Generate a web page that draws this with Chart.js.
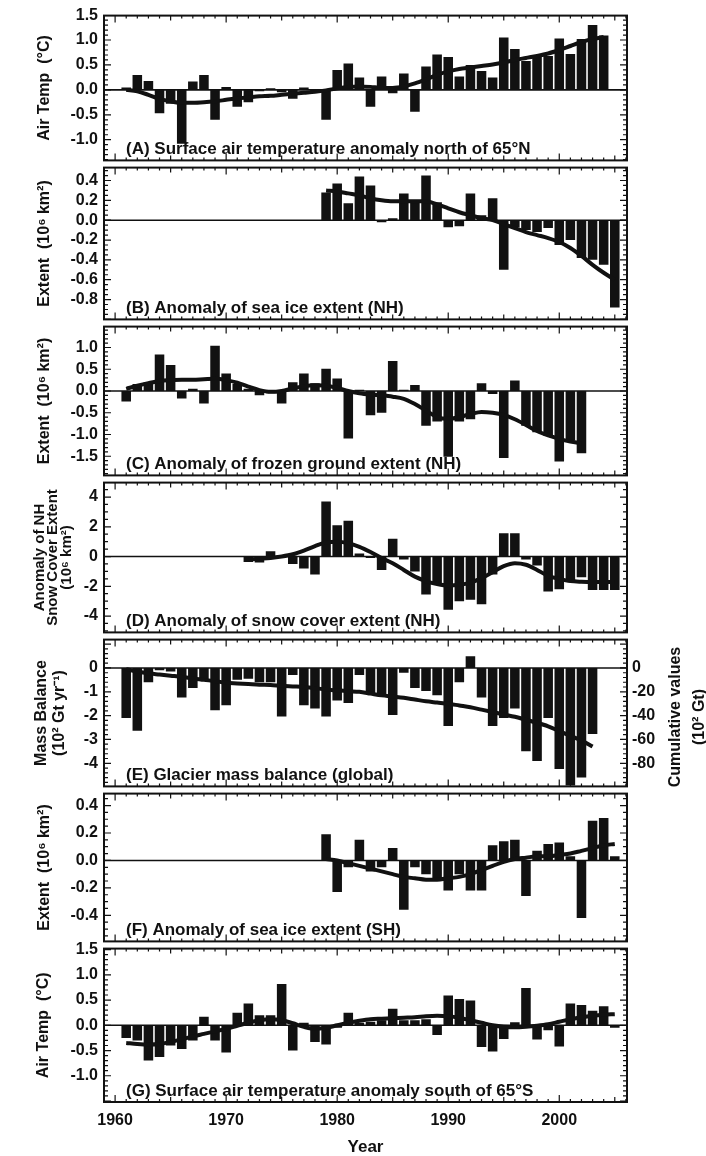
<!DOCTYPE html>
<html>
<head>
<meta charset="utf-8">
<script src="https://cdn.jsdelivr.net/npm/chart.js@4.4.0/dist/chart.umd.min.js"></script>
<style>
  html, body { margin: 0; padding: 0; background: #fff; }
  #wrap { position: relative; width: 706px; height: 1156px; overflow: hidden; background: #fff; }
  #wrap canvas { position: absolute; left: 0; }
</style>
</head>
<body>
<div id="wrap"></div>
<script>
const range = (a, b) => Array.from({ length: b - a + 1 }, (_, i) => a + i);

// (A) surface air temperature north of 65N
const yearsA = range(1961, 2004);
const barsA = [0.05, 0.30, 0.18, -0.47, -0.28, -1.08, 0.17, 0.30, -0.60, 0.06,
  -0.34, -0.25, -0.03, 0.03, -0.05, -0.18, 0.05, -0.05, -0.60, 0.40,
  0.53, 0.25, -0.34, 0.27, -0.07, 0.33, -0.44, 0.47, 0.71, 0.66,
  0.27, 0.50, 0.38, 0.25, 1.05, 0.82, 0.58, 0.66, 0.68, 1.03,
  0.72, 1.02, 1.30, 1.09];
const smoothA = [0.00, -0.03, -0.10, -0.18, -0.23, -0.26, -0.26, -0.25, -0.23, -0.20,
  -0.17, -0.15, -0.13, -0.12, -0.10, -0.08, -0.06, -0.04, -0.01, 0.03,
  0.06, 0.07, 0.06, 0.04, 0.04, 0.07, 0.13, 0.21, 0.30, 0.37,
  0.42, 0.45, 0.48, 0.51, 0.55, 0.60, 0.64, 0.68, 0.73, 0.80,
  0.88, 0.96, 1.02, 1.06];
const ticksA = [1.5, 1.0, 0.5, 0.0, -0.5, -1.0];

// (B) sea ice extent NH
const yearsB = range(1979, 2005);
const barsB = [0.28, 0.37, 0.17, 0.44, 0.35, -0.02, 0.02, 0.27, 0.18, 0.45,
  0.18, -0.07, -0.06, 0.27, 0.05, 0.22, -0.50, -0.07, -0.10, -0.12,
  -0.08, -0.25, -0.20, -0.38, -0.40, -0.45, -0.88];
const smoothB = [0.30, 0.29, 0.27, 0.25, 0.22, 0.20, 0.19, 0.19, 0.19, 0.19,
  0.16, 0.12, 0.08, 0.05, 0.02, 0.00, -0.04, -0.08, -0.12, -0.15,
  -0.18, -0.22, -0.28, -0.36, -0.45, -0.53, -0.60];
const ticksB = [0.4, 0.2, 0.0, -0.2, -0.4, -0.6, -0.8];

// (C) frozen ground extent NH
const yearsC = range(1961, 2002);
const barsC = [-0.24, 0.16, 0.20, 0.84, 0.60, -0.17, 0.05, -0.29, 1.04, 0.40,
  0.16, 0.05, -0.10, -0.05, -0.29, 0.20, 0.40, 0.18, 0.51, 0.29,
  -1.09, 0.03, -0.56, -0.50, 0.69, 0.03, 0.14, -0.80, -0.70, -1.51,
  -0.70, -0.65, 0.18, -0.07, -1.54, 0.24, -0.80, -0.95, -1.03, -1.62,
  -1.14, -1.43];
const smoothC = [0.05, 0.12, 0.18, 0.23, 0.25, 0.26, 0.26, 0.27, 0.28, 0.25,
  0.19, 0.10, 0.02, -0.02, 0.00, 0.06, 0.11, 0.13, 0.12, 0.07,
  0.00, -0.05, -0.08, -0.10, -0.13, -0.18, -0.30, -0.45, -0.60, -0.64,
  -0.60, -0.53, -0.48, -0.50, -0.55, -0.65, -0.78, -0.92, -1.02, -1.10,
  -1.16, -1.20];
const ticksC = [1.0, 0.5, 0.0, -0.5, -1.0, -1.5];

// (D) snow cover extent NH
const yearsD = range(1972, 2005);
const barsD = [-0.36, -0.40, 0.36, 0.10, -0.50, -0.80, -1.20, 3.70, 2.10, 2.40,
  0.20, -0.10, -0.90, 1.20, -0.20, -1.00, -2.55, -1.80, -3.57, -3.00,
  -2.90, -3.20, -1.20, 1.56, 1.56, -0.20, -0.60, -2.35, -2.20, -1.70,
  -1.40, -2.25, -2.25, -2.25];
const smoothD = [-0.20, -0.15, -0.10, 0.00, 0.15, 0.40, 0.70, 0.95, 1.00, 0.90,
  0.65, 0.30, -0.10, -0.45, -0.90, -1.35, -1.65, -1.85, -1.95, -1.90,
  -1.75, -1.45, -1.05, -0.65, -0.45, -0.55, -0.90, -1.30, -1.50, -1.65,
  -1.70, -1.72, -1.72, -1.72];
const ticksD = [4, 2, 0, -2, -4];

// (E) glacier mass balance, yearly (10^2 Gt/yr) and cumulative (10^2 Gt)
const yearsE = range(1961, 2003);
const barsE = [-2.10, -2.64, -0.60, -0.10, -0.15, -1.24, -0.84, -0.50, -1.77, -1.57,
  -0.50, -0.45, -0.60, -0.60, -2.04, -0.30, -1.57, -1.70, -2.04, -1.37,
  -1.47, -0.30, -1.07, -1.17, -1.97, -0.20, -0.84, -0.97, -1.15, -2.44,
  -0.60, 0.49, -1.24, -2.44, -2.10, -1.70, -3.50, -3.90, -2.10, -4.24,
  -4.93, -4.60, -2.77];
const cumulativeE = [-1, -3, -4.5, -5.5, -6.5, -7.5, -8.8, -10, -11, -12.5,
  -13, -13.5, -14, -14.3, -15, -15.5, -16, -17, -18, -18.8,
  -19.5, -20, -21.5, -23, -24, -25, -26.5, -28, -29, -30,
  -31.5, -33, -35, -37, -39, -41, -43.5, -46, -49, -53,
  -57, -61, -66];
const ticksE = [0, -1, -2, -3, -4];
const cumTicksE = [0, -20, -40, -60, -80];

// (F) sea ice extent SH
const yearsF = range(1979, 2005);
const barsF = [0.19, -0.23, -0.05, 0.15, -0.08, -0.05, 0.09, -0.36, -0.05, -0.10,
  -0.14, -0.22, -0.10, -0.22, -0.22, 0.11, 0.14, 0.15, -0.26, 0.07,
  0.12, 0.13, 0.03, -0.42, 0.29, 0.31, 0.03];
const smoothF = [0.01, 0.00, -0.02, -0.04, -0.06, -0.08, -0.10, -0.12, -0.13, -0.14,
  -0.14, -0.13, -0.12, -0.10, -0.07, -0.04, -0.01, 0.01, 0.02, 0.03,
  0.03, 0.04, 0.05, 0.07, 0.09, 0.11, 0.12];
const ticksF = [0.4, 0.2, 0.0, -0.2, -0.4];

// (G) surface air temperature south of 65S
const yearsG = range(1961, 2005);
const barsG = [-0.25, -0.30, -0.70, -0.63, -0.40, -0.47, -0.30, 0.17, -0.30, -0.54,
  0.25, 0.43, 0.20, 0.20, 0.82, -0.50, 0.05, -0.33, -0.38, -0.05,
  0.25, 0.05, 0.07, 0.10, 0.33, 0.10, 0.10, 0.12, -0.19, 0.59,
  0.52, 0.49, -0.43, -0.52, -0.27, 0.06, 0.74, -0.28, -0.10, -0.42,
  0.43, 0.40, 0.29, 0.38, -0.05];
const smoothG = [-0.35, -0.37, -0.38, -0.37, -0.33, -0.28, -0.22, -0.17, -0.12, -0.07,
  -0.01, 0.05, 0.10, 0.12, 0.10, 0.04, -0.03, -0.07, -0.05, 0.00,
  0.05, 0.09, 0.12, 0.13, 0.14, 0.15, 0.16, 0.18, 0.19, 0.18,
  0.15, 0.10, 0.05, 0.00, -0.03, -0.04, -0.03, -0.01, 0.02, 0.07,
  0.12, 0.16, 0.19, 0.21, 0.22];
const ticksG = [1.5, 1.0, 0.5, 0.0, -0.5, -1.0];

const xTicks = [1960, 1970, 1980, 1990, 2000];

const FAMILY = '"Liberation Sans", Arial, Helvetica, sans-serif';
const INK = '#111';

const panels = [
  { years: yearsA, bars: barsA, line: smoothA, ticks: ticksA, min: -1.415, max: 1.49, minor: 0.1, dec: 1,
    title: 'Air Temp  (°C)', tSize: 16, tLH: 1.2, tPad: 35,
    label: '(A) Surface air temperature anomaly north of 65°N' },
  { years: yearsB, bars: barsB, line: smoothB, ticks: ticksB, min: -1.0, max: 0.53, minor: 0.05, dec: 1,
    title: 'Extent  (10⁶ km²)', tSize: 16, tLH: 1.2, tPad: 35,
    label: '(B) Anomaly of sea ice extent (NH)' },
  { years: yearsC, bars: barsC, line: smoothC, ticks: ticksC, min: -1.94, max: 1.48, minor: 0.1, dec: 1,
    title: 'Extent  (10⁶ km²)', tSize: 16, tLH: 1.2, tPad: 35,
    label: '(C) Anomaly of frozen ground extent (NH)' },
  { years: yearsD, bars: barsD, line: smoothD, ticks: ticksD, min: -5.1, max: 4.97, minor: 0.5, dec: 0,
    title: ['Anomaly of NH', 'Snow Cover Extent', '(10⁶ km²)'], tSize: 15, tLH: 0.9, tPad: 33,
    label: '(D) Anomaly of snow cover extent (NH)' },
  { years: yearsE, bars: barsE, line: cumulativeE, ticks: ticksE, min: -4.97, max: 1.19, minor: 0.2, dec: 0,
    title: ['Mass Balance', '(10² Gt yr⁻¹)'], tSize: 16, tLH: 1.12, tPad: 33,
    label: '(E) Glacier mass balance (global)', right: true },
  { years: yearsF, bars: barsF, line: smoothF, ticks: ticksF, min: -0.59, max: 0.487, minor: 0.05, dec: 1,
    title: 'Extent  (10⁶ km²)', tSize: 16, tLH: 1.2, tPad: 35,
    label: '(F) Anomaly of sea ice extent (SH)' },
  { years: yearsG, bars: barsG, line: smoothG, ticks: ticksG, min: -1.52, max: 1.52, minor: 0.1, dec: 1,
    title: 'Air Temp  (°C)', tSize: 16, tLH: 1.2, tPad: 34,
    label: '(G) Surface air temperature anomaly south of 65°S' }
];
const edges = [10, 164, 323, 479, 636, 790, 945, 1102];

// frame, inward ticks, zero line, panel caption
const framePlugin = {
  id: 'frame',
  beforeDatasetsDraw(chart, args, opts) {
    const { ctx, chartArea: a, scales } = chart;
    const y0 = scales.y.getPixelForValue(0);
    ctx.save();
    ctx.strokeStyle = INK;
    ctx.lineWidth = 1.6;
    ctx.beginPath();
    ctx.moveTo(a.left, y0);
    ctx.lineTo(a.right, y0);
    ctx.stroke();
    ctx.restore();
  },
  afterDraw(chart, args, opts) {
    const { ctx, chartArea: a, scales: { x, y } } = chart;
    ctx.save();
    ctx.strokeStyle = INK;
    ctx.lineWidth = 1.2;
    ctx.beginPath();
    const n0 = Math.ceil(y.min / opts.minor - 1e-6);
    const n1 = Math.floor(y.max / opts.minor + 1e-6);
    for (let n = n0; n <= n1; n++) {
      const v = n * opts.minor;
      const r = v / opts.major;
      const len = Math.abs(r - Math.round(r)) < 1e-6 ? 7 : 4;
      const py = y.getPixelForValue(v);
      ctx.moveTo(a.left, py); ctx.lineTo(a.left + len, py);
      ctx.moveTo(a.right, py); ctx.lineTo(a.right - len, py);
    }
    for (let yr = Math.ceil(x.min); yr <= x.max; yr++) {
      const len = yr % 10 === 0 ? 7 : (yr % 5 === 0 ? 5 : 3);
      const px = x.getPixelForValue(yr);
      ctx.moveTo(px, a.top); ctx.lineTo(px, a.top + len);
      ctx.moveTo(px, a.bottom); ctx.lineTo(px, a.bottom - len);
    }
    ctx.stroke();

    ctx.lineWidth = 2;
    ctx.strokeRect(a.left, a.top, a.right - a.left, a.bottom - a.top);

    ctx.fillStyle = INK;
    ctx.font = 'bold 17px ' + FAMILY;
    ctx.textAlign = 'left';
    ctx.textBaseline = 'alphabetic';
    ctx.fillText(opts.label, a.left + 22, a.bottom - 6);

    if (opts.rightTitle) {
      ctx.font = 'bold 16px ' + FAMILY;
      ctx.textAlign = 'center';
      ctx.textBaseline = 'middle';
      ctx.translate(676, (a.top + a.bottom) / 2 + 4);
      ctx.rotate(-Math.PI / 2);
      opts.rightTitle.forEach((t, i) => ctx.fillText(t, 0, i * 24));
    }
    ctx.restore();
  }
};

const wrap = document.getElementById('wrap');
const tickFont = { family: FAMILY, size: 16, weight: 'bold' };

panels.forEach((p, i) => {
  const last = i === panels.length - 1;
  const padTop = i === 0 ? 10 : 12;
  const canvasTop = edges[i] - padTop;
  const canvasBottom = last ? 1156 : edges[i + 1] + 12;
  const canvas = document.createElement('canvas');
  canvas.width = 706;
  canvas.height = canvasBottom - canvasTop;
  canvas.style.top = canvasTop + 'px';
  canvas.style.width = '706px';
  canvas.style.height = canvas.height + 'px';
  wrap.appendChild(canvas);

  const scales = {
    x: {
      type: 'linear', min: 1959, max: 2006.1, offset: false, display: last,
      grid: { display: false, drawTicks: false, offset: false }, border: { display: false },
      ticks: { font: tickFont, color: INK, padding: 9, maxRotation: 0, autoSkip: false, callback: v => String(v) },
      title: { display: last, text: 'Year', color: INK, font: { family: FAMILY, size: 17, weight: 'bold', lineHeight: 1 }, padding: { top: 0, bottom: 0 } }
    },
    y: {
      min: p.min, max: p.max,
      afterBuildTicks: s => { s.ticks = p.ticks.map(v => ({ value: v })); },
      afterFit: s => { s.width = 104; },
      grid: { display: false, drawTicks: false }, border: { display: false },
      ticks: { font: tickFont, color: INK, padding: 6, autoSkip: false, callback: v => Number(v).toFixed(p.dec) },
      title: { display: true, text: p.title, color: INK, font: { family: FAMILY, size: p.tSize, weight: 'bold', lineHeight: p.tLH }, padding: { top: p.tPad, bottom: 0 } }
    }
  };
  if (last) {
    scales.x.afterBuildTicks = s => { s.ticks = xTicks.map(v => ({ value: v })); };
    scales.x.afterFit = s => { s.height = 54; };
  }
  if (p.right) {
    scales.y2 = {
      position: 'right', min: p.min * 20, max: p.max * 20,
      afterBuildTicks: s => { s.ticks = cumTicksE.map(v => ({ value: v })); },
      afterFit: s => { s.width = 79; },
      grid: { display: false, drawTicks: false }, border: { display: false },
      ticks: { font: tickFont, color: INK, padding: 5, autoSkip: false, callback: v => String(v) }
    };
  }

  new Chart(canvas, {
    data: {
      datasets: [
        {
          type: 'line',
          data: p.years.map((yr, k) => ({ x: yr, y: p.line[k] })),
          yAxisID: p.right ? 'y2' : 'y',
          borderColor: INK, borderWidth: 4, pointRadius: 0,
          cubicInterpolationMode: 'monotone', fill: false, order: 0
        },
        {
          type: 'bar',
          data: p.years.map((yr, k) => ({ x: yr, y: p.bars[k] })),
          yAxisID: 'y',
          backgroundColor: INK, borderWidth: 0,
          barPercentage: 0.86, categoryPercentage: 1.0, order: 1
        }
      ]
    },
    options: {
      responsive: false, animation: false, devicePixelRatio: 1,
      layout: { padding: { top: padTop, bottom: last ? 0 : 12, left: 0, right: p.right ? 0 : 79 } },
      plugins: {
        legend: { display: false }, tooltip: { enabled: false },
        frame: {
          minor: p.minor, major: p.ticks[0] - p.ticks[1], label: p.label,
          rightTitle: p.right ? ['Cumulative values', '(10² Gt)'] : null
        }
      },
      scales
    },
    plugins: [framePlugin]
  });
});
</script>
</body>
</html>
